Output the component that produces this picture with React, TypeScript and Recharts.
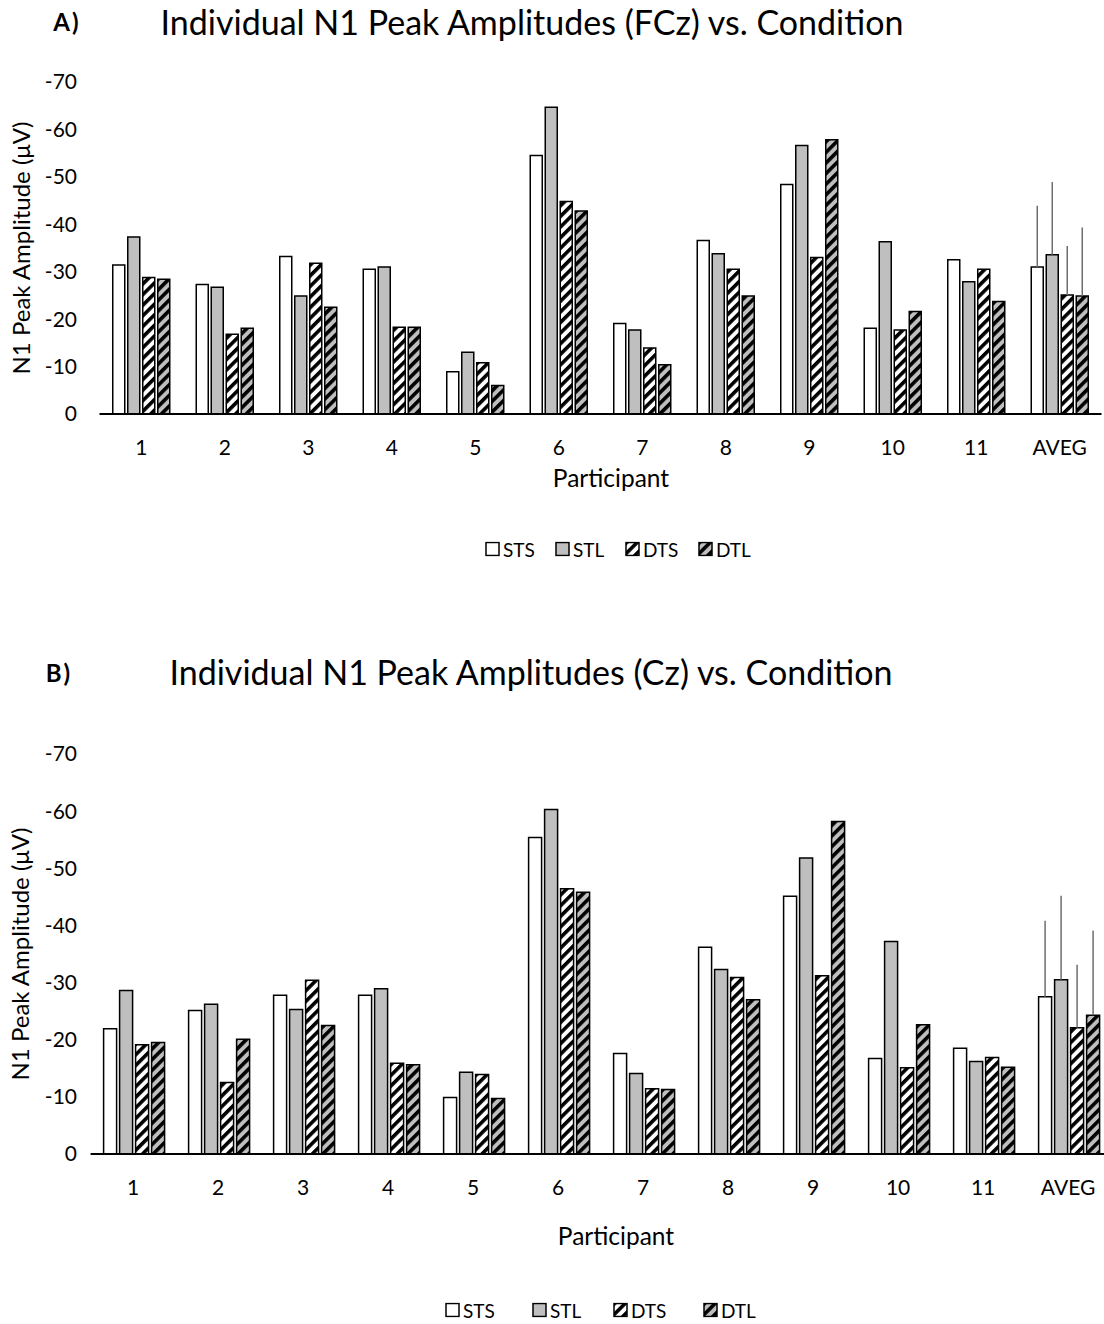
import React from "react";
import { BarChart, Bar, XAxis, YAxis, ErrorBar } from "recharts";

const participants = ["1", "2", "3", "4", "5", "6", "7", "8", "9", "10", "11", "AVEG"];
const conditions = ["STS", "STL", "DTS", "DTL"];
const yTicks = [0, -10, -20, -30, -40, -50, -60, -70];

// FCz peak amplitudes (µV)
const fczSTS = [-31.4, -27.3, -33.2, -30.5, -8.9, -54.5, -19.1, -36.6, -48.4, -18.1, -32.5, -31.0];
const fczSTL = [-37.3, -26.7, -24.9, -31.0, -13.0, -64.7, -17.7, -33.8, -56.6, -36.3, -27.9, -33.6];
const fczDTS = [-28.8, -16.8, -31.8, -18.3, -10.8, -44.8, -13.9, -30.5, -33.0, -17.7, -30.5, -25.1];
const fczDTL = [-28.4, -18.1, -22.5, -18.3, -6.0, -42.8, -10.4, -24.9, -57.8, -21.6, -23.7, -24.9];
const fczSD = [12.9, 15.3, 10.3, 14.4];

// Cz peak amplitudes (µV)
const czSTS = [-21.9, -25.1, -27.8, -27.8, -9.9, -55.4, -17.6, -36.2, -45.1, -16.7, -18.5, -27.5];
const czSTL = [-28.6, -26.2, -25.3, -28.9, -14.3, -60.3, -14.1, -32.3, -51.8, -37.2, -16.2, -30.5];
const czDTS = [-19.1, -12.5, -30.4, -15.9, -13.9, -46.4, -11.4, -30.9, -31.2, -15.1, -16.9, -22.1];
const czDTL = [-19.5, -20.1, -22.5, -15.6, -9.7, -45.8, -11.3, -27.0, -58.2, -22.6, -15.2, -24.3];
const czSD = [13.3, 14.7, 11.0, 14.8];

const FONT = "Lato, sans-serif";
const fills: Record<string, string> = {
  STS: "#ffffff",
  STL: "#bfbfbf",
  DTS: "url(#hatchWhite)",
  DTL: "url(#hatchGray)",
};

function buildRows(series: number[][], sd: number[]) {
  return participants.map((name, i) => {
    const row: any = { name };
    conditions.forEach((c, k) => {
      row[c] = series[k][i];
      // error bars only on the average, drawn upwards (more negative)
      row[c + "Err"] = name === "AVEG" ? [sd[k], 0] : undefined;
    });
    return row;
  });
}

const fczData = buildRows([fczSTS, fczSTL, fczDTS, fczDTL], fczSD);
const czData = buildRows([czSTS, czSTL, czDTS, czDTL], czSD);

function Patterns() {
  return (
    <svg width={0} height={0} style={{ position: "absolute" }}>
      <defs>
        <pattern id="hatchWhite" patternUnits="userSpaceOnUse" width={7.5} height={7.5} patternTransform="rotate(45)">
          <rect width={7.5} height={7.5} fill="#ffffff" />
          <rect width={3.6} height={7.5} fill="#000000" />
        </pattern>
        <pattern id="hatchGray" patternUnits="userSpaceOnUse" width={7.5} height={7.5} patternTransform="rotate(45)">
          <rect width={7.5} height={7.5} fill="#bfbfbf" />
          <rect width={3.6} height={7.5} fill="#000000" />
        </pattern>
      </defs>
    </svg>
  );
}

function Panel({ data, top, width, height, plotTop, axisWidth, right, catGap }: any) {
  return (
    <div style={{ position: "absolute", left: 0, top, width, height }}>
      <BarChart
        width={width}
        height={height}
        data={data}
        margin={{ top: plotTop, right, bottom: 26, left: 0 }}
        barGap={3}
        barCategoryGap={catGap}
      >
        <XAxis
          dataKey="name"
          axisLine={{ stroke: "#000", strokeWidth: 2 }}
          tickLine={false}
          tickSize={0}
          tickMargin={26}
          height={40}
          interval={0}
          tick={{ fill: "#000", fontSize: 21, fontFamily: FONT }}
        />
        <YAxis
          domain={[-70, 0]}
          reversed
          ticks={yTicks}
          axisLine={false}
          tickLine={false}
          tickSize={0}
          tickMargin={axisWidth - 77}
          width={axisWidth}
          tick={{ fill: "#000", fontSize: 21, fontFamily: FONT }}
        />
        {conditions.map((c) => (
          <Bar key={c} dataKey={c} fill={fills[c]} stroke="#000" strokeWidth={1.5} isAnimationActive={false}>
            <ErrorBar dataKey={c + "Err"} width={0} stroke="#6e6e6e" strokeWidth={1.5} direction="y" />
          </Bar>
        ))}
      </BarChart>
    </div>
  );
}

function LegendRow({ xs, y }: any) {
  return (
    <>
      {conditions.map((c, i) => (
        <div
          key={c}
          style={{
            position: "absolute",
            left: xs[i],
            top: y,
            transform: "translateY(-50%)",
            display: "flex",
            alignItems: "center",
            fontFamily: FONT,
            fontSize: 19,
            lineHeight: 1,
          }}
        >
          <svg width={15} height={15} style={{ marginRight: 3 }}>
            <rect x={1} y={1} width={13} height={13} fill={fills[c]} stroke="#000" strokeWidth={1.5} />
          </svg>
          <span>{c}</span>
        </div>
      ))}
    </>
  );
}

function Text({ x, y, size, bold, rotate, spacing, children }: any) {
  return (
    <div
      style={{
        position: "absolute",
        left: x,
        top: y,
        transform: `translate(-50%, -50%)${rotate ? " rotate(-90deg)" : ""}`,
        fontFamily: FONT,
        fontSize: size,
        fontWeight: bold ? 700 : 400,
        letterSpacing: spacing || 0,
        lineHeight: 1,
        whiteSpace: "nowrap",
        color: "#000",
      }}
    >
      {children}
    </div>
  );
}

export default function App() {
  return (
    <div style={{ position: "fixed", left: 0, top: 0, width: 1104, height: 1324, overflow: "hidden", background: "#fff" }}>
      <Patterns />
      <Text x={67} y={22} size={24} bold spacing={2}>A)</Text>
      <Text x={532} y={22} size={34}>Individual N1 Peak Amplitudes (FCz) vs. Condition</Text>
      <Panel data={fczData} top={0} width={1104} height={480} plotTop={82} axisWidth={99.5} right={2.5} catGap={13.25} />
      <Text x={21} y={248} size={24} rotate>N1 Peak Amplitude (μV)</Text>
      <Text x={611} y={478} size={24.5}>Participant</Text>
      <LegendRow xs={[485, 555, 625, 698]} y={549} />

      <Text x={59} y={673} size={24} bold spacing={2}>B)</Text>
      <Text x={531} y={672} size={34}>Individual N1 Peak Amplitudes (Cz) vs. Condition</Text>
      <Panel data={czData} top={700} width={1120} height={520} plotTop={54} axisWidth={90.6} right={9.4} catGap={13} />
      <Text x={20} y={954} size={24} rotate>N1 Peak Amplitude (μV)</Text>
      <Text x={616} y={1236} size={24.5}>Participant</Text>
      <LegendRow xs={[445, 532, 613, 703]} y={1310} />
    </div>
  );
}
